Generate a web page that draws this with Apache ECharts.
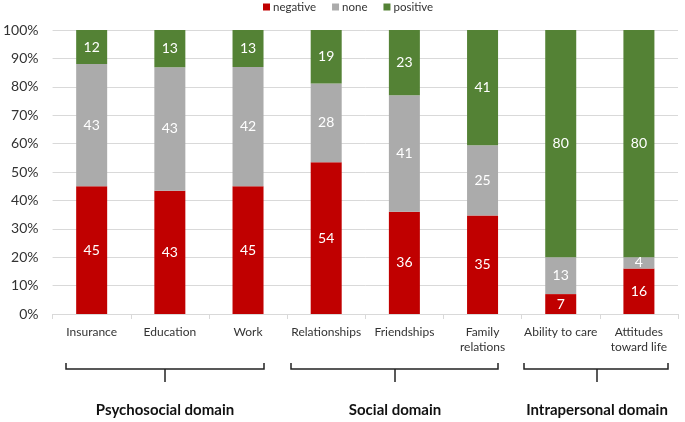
<!DOCTYPE html>
<html>
<head>
<meta charset="utf-8">
<script src="https://cdn.jsdelivr.net/npm/echarts@6/dist/echarts.min.js"></script>
<style>html,body{margin:0;padding:0;background:#fff}#c{width:685px;height:422px}</style>
</head>
<body>
<div id="c"></div>
<script>
const categories = ['Insurance', 'Education', 'Work', 'Relationships', 'Friendships', 'Family\nrelations', 'Ability to care', 'Attitudes\ntoward life'];
const negative = [45, 43, 45, 54, 36, 35, 7, 16];
const none = [43, 43, 42, 28, 41, 25, 13, 4];
const positive = [12, 13, 13, 19, 23, 41, 80, 80];
const yTicks = [0, 10, 20, 30, 40, 50, 60, 70, 80, 90, 100];
const domains = ['Psychosocial domain', 'Social domain', 'Intrapersonal domain'];

const totals = categories.map((_, i) => negative[i] + none[i] + positive[i]);
function share(arr) { return arr.map((v, i) => ({ value: v / totals[i] * 100, raw: v })); }

const font = 'Lato, "Open Sans", sans-serif';
const colors = { negative: '#C00000', none: '#ABABAB', positive: '#548235' };

function mkSeries(name, arr) {
  return {
    name, type: 'bar', stack: 'all', barWidth: 31,
    itemStyle: { color: colors[name] },
    label: { show: true, position: 'inside', color: '#fff', fontSize: 14, fontFamily: font,
      formatter: p => p.data.raw },
    data: share(arr)
  };
}

const braces = [
  { x1: 66, x2: 264, xc: 165 },
  { x1: 291, x2: 498, xc: 395 },
  { x1: 524, x2: 668, xc: 597 }
];
const graphic = [];
braces.forEach((b, i) => {
  graphic.push({ type: 'polyline', shape: { points: [[b.x1, 363], [b.x1, 369], [b.x2, 369], [b.x2, 363]] },
    style: { stroke: '#222', lineWidth: 1.5, fill: null } });
  graphic.push({ type: 'line', shape: { x1: b.xc, y1: 369, x2: b.xc, y2: 382 },
    style: { stroke: '#222', lineWidth: 1.5 } });
  graphic.push({ type: 'text', x: b.xc, y: 410, style: { text: domains[i], font: 'bold 15px ' + font,
    fill: '#111', textAlign: 'center', textVerticalAlign: 'middle' } });
});

const chart = echarts.init(document.getElementById('c'));
chart.setOption({
  animation: false,
  legend: { top: 1, left: 263, padding: 0, itemWidth: 7, itemHeight: 7, itemGap: 16, icon: 'rect',
    textStyle: { fontSize: 11.5, fontFamily: font, color: '#333', padding: [0, 0, 0, -2] },
    data: ['negative', 'none', 'positive'] },
  grid: { left: 51, right: 7, top: 30, bottom: 108 },
  xAxis: { type: 'category', data: categories,
    axisLine: { lineStyle: { color: '#d9d9d9', width: 1 } },
    axisTick: { show: true, length: 5, lineStyle: { color: '#d9d9d9' } },
    axisLabel: { fontSize: 12, fontFamily: font, color: '#333', margin: 11, lineHeight: 15, interval: 0 } },
  yAxis: { type: 'value', min: 0, max: 100, interval: 10,
    axisLine: { show: false }, axisTick: { show: false },
    splitLine: { lineStyle: { color: '#d9d9d9' } },
    axisLabel: { fontSize: 14, fontFamily: font, color: '#333', margin: 14,
      formatter: v => yTicks.includes(v) ? v + '%' : '' } },
  series: [mkSeries('negative', negative), mkSeries('none', none), mkSeries('positive', positive)],
  graphic
});
</script>
</body>
</html>
